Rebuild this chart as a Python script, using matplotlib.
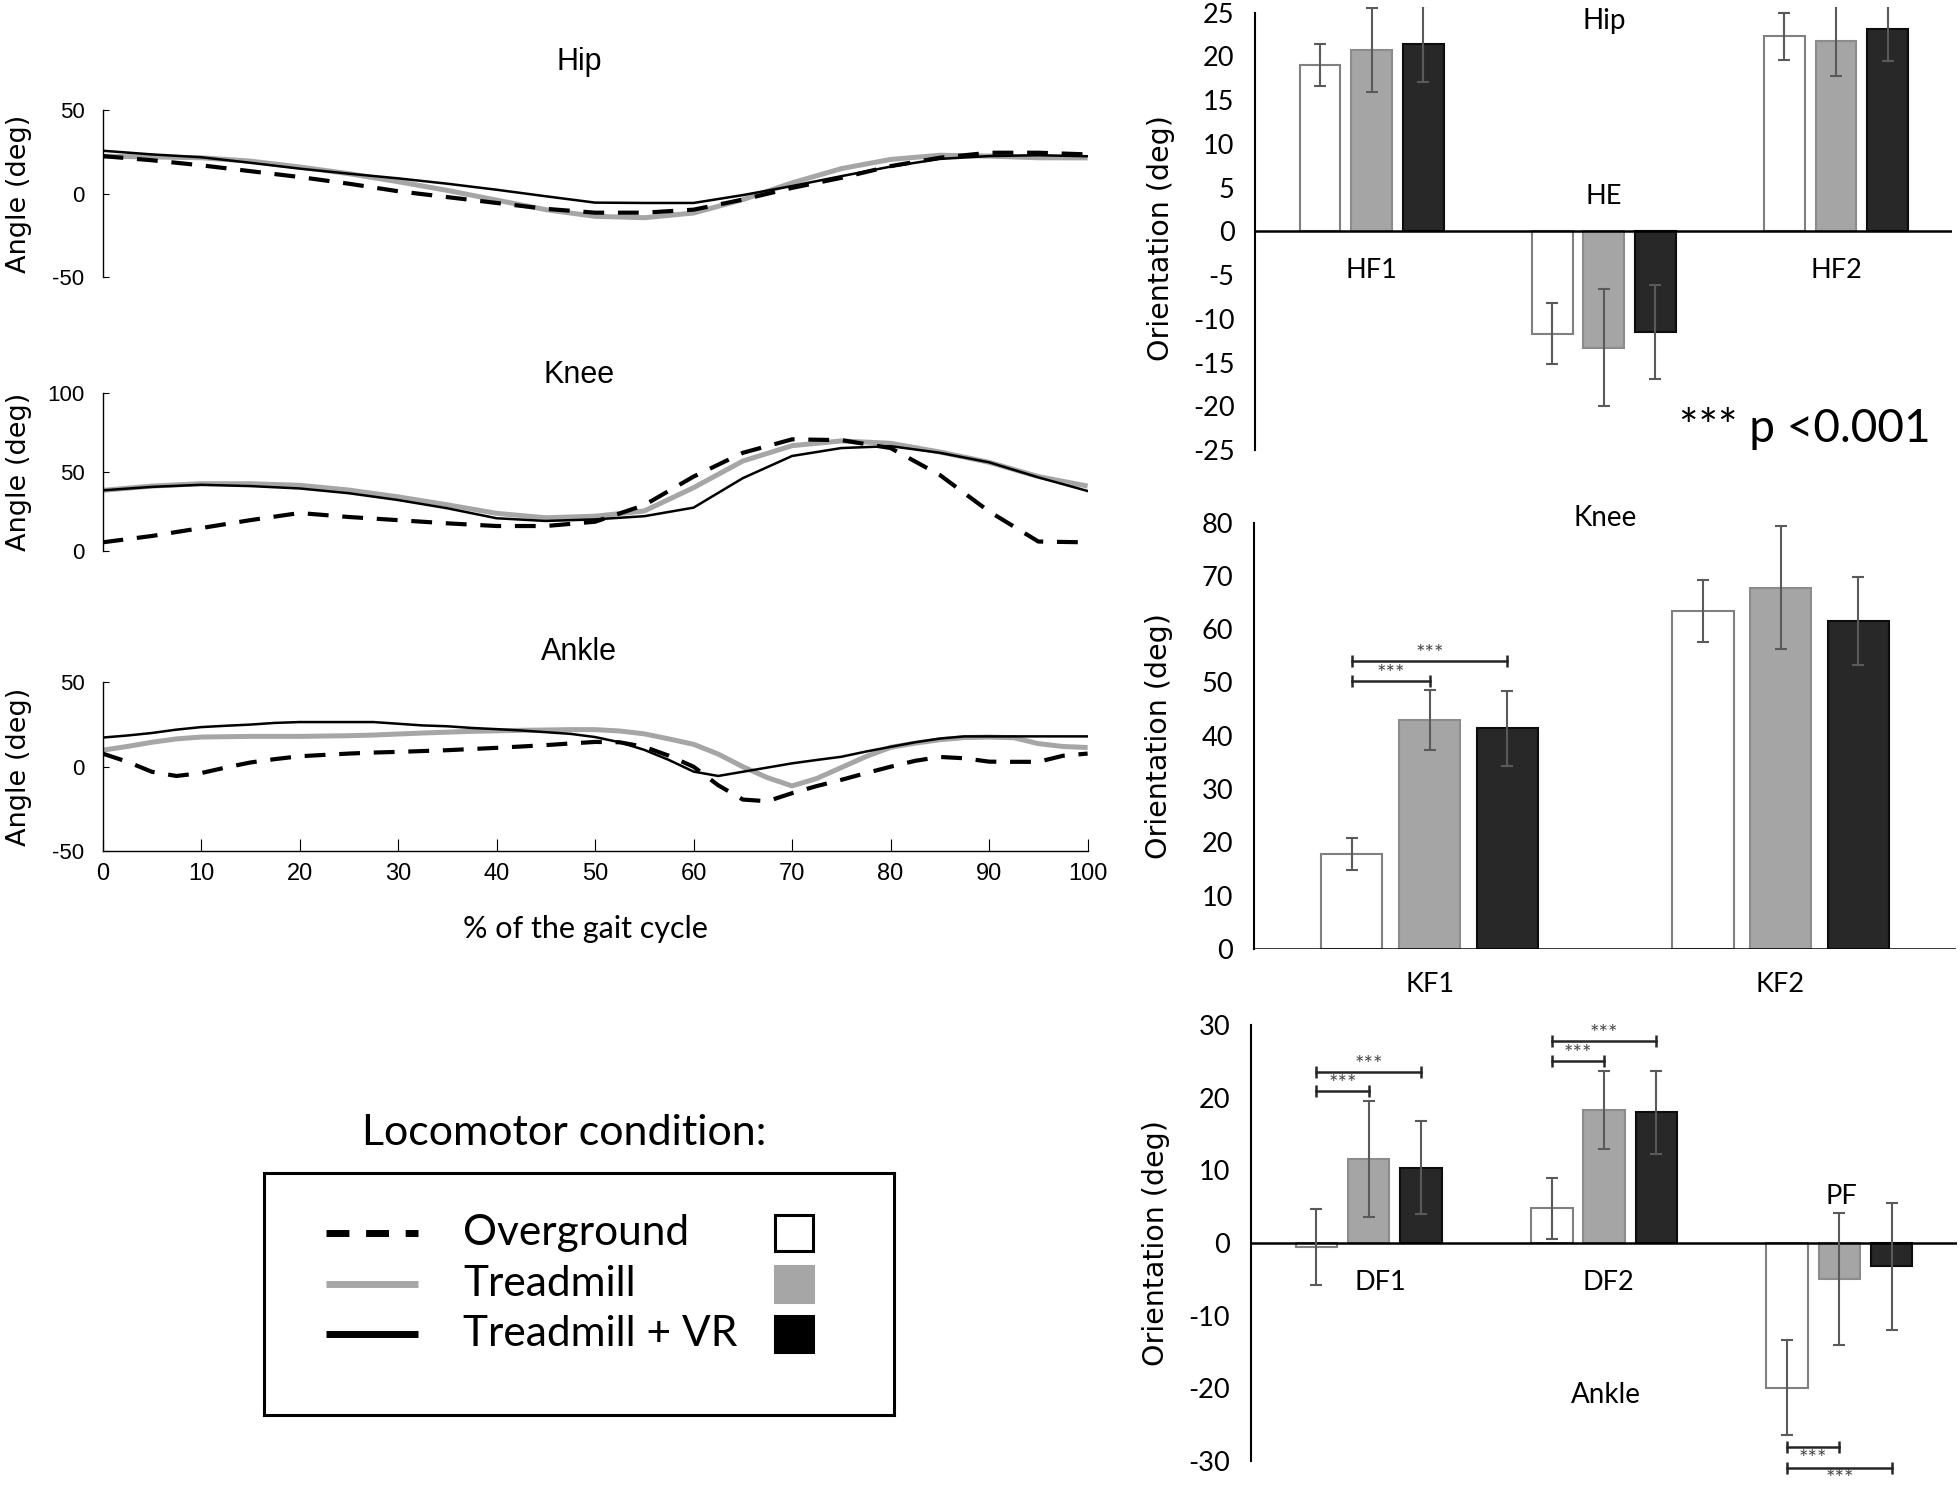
import numpy as np
import matplotlib
matplotlib.use("Agg")
import matplotlib.pyplot as plt
from matplotlib import font_manager
from matplotlib.patches import Rectangle


def pick_font(*names):
    avail = {f.name for f in font_manager.fontManager.ttflist}
    for n in names:
        if n in avail:
            return n
    return "DejaVu Sans"


NARROW = pick_font("Liberation Sans Narrow", "Liberation Sans")
ARIAL = pick_font("Liberation Sans", "DejaVu Sans")
CAL = pick_font("Lato", "Open Sans")

plt.rcParams["font.family"] = [CAL, "DejaVu Sans"]
plt.rcParams["axes.unicode_minus"] = False

conditions = ["Overground", "Treadmill", "Treadmill + VR"]

# ---- joint angle curves (% of gait cycle) ----
pct = [0, 5, 10, 15, 20, 25, 30, 35, 40, 45, 50, 55, 60, 65, 70, 75, 80, 85, 90, 95, 100]

hip_over = [22.5, 20, 17, 13.5, 10, 6, 1.5, -2, -5.5, -9, -11.3, -11.3, -9.5, -3.5, 3.5, 9.5, 16.5, 21.5, 24.5, 24.5, 23.5]
hip_tread = [22.4, 22, 21.5, 19.5, 16, 12, 7.2, 2, -3.8, -9.5, -13.5, -14.3, -11.5, -3.5, 6.5, 15, 20.5, 23, 22.5, 21.5, 21.4]
hip_vr = [25.7, 23.5, 21.8, 18.5, 15, 12, 9.2, 6, 2.4, -1.5, -5.3, -5.5, -5.5, -0.8, 4.6, 10.5, 16.2, 20.8, 22.5, 23, 22.4]

knee_over = [5.5, 9.5, 14.5, 19.5, 24, 21.5, 19.5, 17.5, 15.8, 15.8, 18.5, 29, 47, 62, 70.5, 70, 65, 48, 25, 6, 5.5]
knee_tread = [38.3, 41, 42.5, 42.5, 41.5, 38.5, 34.2, 29.2, 23.8, 21, 22, 25.3, 40, 56.8, 66.5, 69.5, 68, 62.5, 56, 47, 41]
knee_vr = [38.3, 40.5, 41.8, 41, 39.5, 36.5, 32.2, 27, 20.7, 19, 20, 22, 27.4, 46, 60, 65, 66.2, 62, 56, 46.5, 37.9]

pct_ankle = [0, 2.5, 5, 7.5, 10, 12.5, 15, 17.5, 20, 22.5, 25, 27.5, 30, 32.5, 35, 37.5, 40,
             42.5, 45, 47.5, 50, 52.5, 55, 57.5, 60, 62.5, 65, 67.5, 70, 72.5, 75, 77.5, 80,
             82.5, 85, 87.5, 90, 92.5, 95, 97.5, 100]
ankle_over = [7.8, 3, -3, -5.5, -3.8, -0.5, 2.5, 4.5, 6.2, 7, 7.8, 8.4, 8.8, 9.3, 9.8, 10.5, 11.2,
              12, 12.8, 13.8, 14.7, 14.5, 11.8, 6.5, 0, -11, -19.5, -20.5, -15.7, -11.5, -7.8, -3.8, 0,
              3.5, 5.8, 5, 3, 2.9, 2.9, 6.5, 7.8]
ankle_tread = [9.8, 12, 14.5, 16.5, 17.6, 17.8, 18, 18, 18, 18.2, 18.4, 18.8, 19.4, 20, 20.5, 21, 21.3,
               21.6, 21.8, 22, 22, 21.2, 19.5, 16.5, 13.3, 7.5, 0, -6.5, -11.4, -7, -0.5, 6, 11.5,
               14, 16, 17.3, 17.6, 17.2, 13.7, 12, 11.4]
ankle_vr = [17.3, 18.5, 20, 22, 23.5, 24.3, 25, 26, 26.5, 26.5, 26.5, 26.5, 25.5, 24.5, 24, 23, 22.3,
            21.5, 20.5, 19.5, 17.6, 14.5, 10, 4, -2.9, -5.5, -3, -0.5, 2, 4, 5.9, 9, 11.8,
            14.5, 16.7, 18, 18, 18, 18, 18, 18]

# ---- peak orientations (mean, sd) ----
hip_labels = ["HF1", "HE", "HF2"]
hip_bar_over = [19.0, -11.7, 22.3]
hip_bar_over_sd = [2.4, 3.5, 2.7]
hip_bar_tread = [20.7, -13.3, 21.8]
hip_bar_tread_sd = [4.8, 6.7, 4.1]
hip_bar_vr = [21.4, -11.5, 23.1]
hip_bar_vr_sd = [4.3, 5.4, 3.6]

knee_labels = ["KF1", "KF2"]
knee_bar_over = [17.8, 63.4]
knee_bar_over_sd = [3.0, 5.8]
knee_bar_tread = [43.0, 67.8]
knee_bar_tread_sd = [5.6, 11.5]
knee_bar_vr = [41.4, 61.5]
knee_bar_vr_sd = [7.0, 8.2]

ankle_labels = ["DF1", "DF2", "PF"]
ankle_bar_over = [-0.5, 4.8, -19.9]
ankle_bar_over_sd = [5.2, 4.2, 6.5]
ankle_bar_tread = [11.6, 18.3, -4.9]
ankle_bar_tread_sd = [8.0, 5.4, 9.1]
ankle_bar_vr = [10.4, 18.0, -3.2]
ankle_bar_vr_sd = [6.4, 5.7, 8.7]

# significance brackets: (category, cond a, cond b, y)
knee_sig = [(0, 0, 1, 50.2), (0, 0, 2, 54.1)]
ankle_sig = [(0, 0, 1, 21.0), (0, 0, 2, 23.5), (1, 0, 1, 25.1), (1, 0, 2, 27.8),
             (2, 0, 1, -28.1), (2, 0, 2, -30.9)]

fills = ["white", "#a5a5a5", "#282828"]
edges = ["#808080", "#8c8c8c", "#0d0d0d"]
offsets = [-0.222, 0.0, 0.222]

fig = plt.figure(figsize=(19.6, 14.95), dpi=100)


def curve_panel(rect, x, over, tread, vr, ylim, yticks, title, title_y, xaxis=False):
    ax = fig.add_axes(rect)
    ax.plot(x, tread, color="#a6a6a6", lw=3.6, solid_capstyle="butt", zorder=2)
    ax.plot(x, over, color="black", lw=3.0, linestyle=(0, (5, 3.3)), zorder=3)
    ax.plot(x, vr, color="black", lw=1.8, zorder=4)
    ax.set_xlim(0, 100)
    ax.set_ylim(*ylim)
    ax.set_yticks(yticks)
    for s in ["top", "right"]:
        ax.spines[s].set_visible(False)
    ax.spines["left"].set_linewidth(1.0)
    ax.tick_params(axis="y", direction="in", length=4, pad=13, labelsize=16)
    for lab in ax.get_yticklabels():
        lab.set_fontfamily(NARROW)
    if xaxis:
        ax.set_xticks([0, 10, 20, 30, 40, 50, 60, 70, 80, 90, 100])
        ax.tick_params(axis="x", direction="in", length=9, pad=9, labelsize=17)
        for lab in ax.get_xticklabels():
            lab.set_fontfamily(NARROW)
        ax.spines["bottom"].set_linewidth(1.0)
        ax.text(0.49, -0.463, "% of the gait cycle", transform=ax.transAxes,
                ha="center", va="center", fontsize=22, family=CAL)
    else:
        ax.spines["bottom"].set_visible(False)
        ax.set_xticks([])
    ax.text(0.484, title_y, title, transform=ax.transAxes, ha="center", va="center",
            fontsize=22, family=ARIAL)
    ax.text(-0.085, 0.5, "Angle (deg)", transform=ax.transAxes, rotation=90,
            ha="center", va="center", fontsize=19.5, family="DejaVu Sans")
    return ax


curve_panel([0.0523, 0.8144, 0.5026, 0.112], pct, hip_over, hip_tread, hip_vr,
            (-50, 50), [-50, 0, 50], "Hip", 1.287)
curve_panel([0.0523, 0.6314, 0.5026, 0.106], pct, knee_over, knee_tread, knee_vr,
            (0, 100), [0, 50, 100], "Knee", 1.11)
curve_panel([0.0523, 0.4308, 0.5026, 0.1127], pct_ankle, ankle_over, ankle_tread, ankle_vr,
            (-50, 50), [-50, 0, 50], "Ankle", 1.18, xaxis=True)


def bar_panel(rect, labels, means, sds, ylim, yticks, label_y=0.5):
    ax = fig.add_axes(rect)
    x = np.arange(len(labels))
    # error bars are cut just above the plot area, as in the original chart
    span = ylim[1] - ylim[0]
    clip = Rectangle((-0.5, ylim[0] - span), len(labels), 2 * span + 0.012 * span,
                     transform=ax.transData, visible=False)
    ax.add_patch(clip)
    for i in range(3):
        pos = x + offsets[i]
        ax.bar(pos, means[i], width=0.176, color=fills[i], edgecolor=edges[i],
               linewidth=1.5, zorder=2)
        eb = ax.errorbar(pos, means[i], yerr=sds[i], fmt="none", ecolor="#5a5a5a",
                         elinewidth=1.5, capsize=4, capthick=1.5, zorder=5)
        for art in eb.lines[1] + eb.lines[2]:
            art.set_clip_path(clip)
    ax.axhline(0, color="black", lw=1.8, zorder=4)
    ax.set_xlim(-0.5, len(labels) - 0.5)
    ax.set_ylim(*ylim)
    ax.set_yticks(yticks)
    ax.set_xticks([])
    for s in ["top", "right", "bottom"]:
        ax.spines[s].set_visible(False)
    ax.spines["left"].set_linewidth(1.5)
    ax.tick_params(axis="y", length=0, pad=15, labelsize=19.5)
    ax.text(-0.135, label_y, "Orientation (deg)", transform=ax.transAxes, rotation=90,
            ha="center", va="center", fontsize=20.5, family="DejaVu Sans")
    return ax


def sig(ax, cat, a, b, y):
    xa = cat + offsets[a]
    xb = cat + offsets[b]
    ax.plot([xa, xb], [y, y], color="#262626", lw=1.8, marker="|", ms=9, mew=1.8,
            clip_on=False, zorder=6)
    dy = -8.5 if y < 0 else 5
    ax.annotate("***", ((xa + xb) / 2, y), xytext=(0, dy), textcoords="offset points",
                ha="center", va="center", fontsize=16, color="#474747",
                annotation_clip=False)


ax_h = bar_panel([0.6405, 0.699, 0.3555, 0.2926], hip_labels,
                 [hip_bar_over, hip_bar_tread, hip_bar_vr],
                 [hip_bar_over_sd, hip_bar_tread_sd, hip_bar_vr_sd],
                 (-25, 25), list(range(-25, 26, 5)), label_y=0.485)
ax_h.text(1, 24.0, "Hip", ha="center", va="center", fontsize=20)
ax_h.text(0, -4.5, hip_labels[0], ha="center", va="center", fontsize=19.5)
ax_h.text(1, 4.0, hip_labels[1], ha="center", va="center", fontsize=19.5)
ax_h.text(2, -4.5, hip_labels[2], ha="center", va="center", fontsize=19.5)
ax_h.text(1.865, -22.6, "*** p <0.001", ha="center", va="center", fontsize=33)

ax_k = bar_panel([0.6398, 0.3652, 0.3582, 0.2853], knee_labels,
                 [knee_bar_over, knee_bar_tread, knee_bar_vr],
                 [knee_bar_over_sd, knee_bar_tread_sd, knee_bar_vr_sd],
                 (0, 80), list(range(0, 81, 10)))
ax_k.text(0.5, 80.9, "Knee", ha="center", va="center", fontsize=20)
for i, lab in enumerate(knee_labels):
    ax_k.text(i, -6.6, lab, ha="center", va="center", fontsize=19.5)
for s in knee_sig:
    sig(ax_k, *s)

ax_a = bar_panel([0.6383, 0.0227, 0.3602, 0.2916], ankle_labels,
                 [ankle_bar_over, ankle_bar_tread, ankle_bar_vr],
                 [ankle_bar_over_sd, ankle_bar_tread_sd, ankle_bar_vr_sd],
                 (-30, 30), list(range(-30, 31, 10)))
ax_a.text(0.05, -5.4, ankle_labels[0], ha="center", va="center", fontsize=19.5)
ax_a.text(1.02, -5.4, ankle_labels[1], ha="center", va="center", fontsize=19.5)
ax_a.text(2.01, 6.4, ankle_labels[2], ha="center", va="center", fontsize=19.5)
ax_a.text(1.01, -20.9, "Ankle", ha="center", va="center", fontsize=20)
for s in ankle_sig:
    sig(ax_a, *s)

# ---- legend box (axes in pixel units of the full figure) ----
lg = fig.add_axes([264 / 1960, 1 - 1415 / 1495, 630 / 1960, 242 / 1495])
lg.set_xlim(264, 894)
lg.set_ylim(1415, 1173)
lg.set_xticks([])
lg.set_yticks([])
for s in lg.spines.values():
    s.set_linewidth(2.2)
fig.text(564 / 1960, 1 - 1133 / 1495, "Locomotor condition:", ha="center", va="center",
         fontsize=31)
row_y = [1233, 1284, 1334]
line_styles = [dict(color="black", lw=5, linestyle=(0, (3.3, 2.4))),
               dict(color="#a6a6a6", lw=5),
               dict(color="black", lw=5)]
for y, name, st, fc in zip(row_y, conditions, line_styles, ["white", "#a6a6a6", "black"]):
    lg.plot([326, 418], [y, y], solid_capstyle="butt", dash_capstyle="butt", **st)
    lg.text(463, y, name, ha="left", va="center", fontsize=30.5)
    lg.add_patch(Rectangle((775, y - 18), 38, 36, facecolor=fc,
                           edgecolor="black" if fc == "white" else fc, lw=2.2))

fig.savefig("out.png", dpi=100)
